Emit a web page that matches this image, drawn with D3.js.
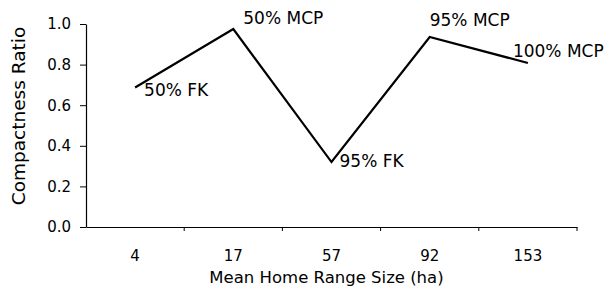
<!DOCTYPE html>
<html>
<head>
<meta charset="utf-8">
<script src="https://cdn.jsdelivr.net/npm/d3@7"></script>
<style>
  body { margin: 0; background: #fff; }
  svg text { font-family: "DejaVu Sans", sans-serif; fill: #000; }
</style>
</head>
<body>
<div class="chart-container"></div>
<script>
const categories = ["4", "17", "57", "92", "153"];
const ratios = [0.687, 0.975, 0.32, 0.936, 0.808];
const pointLabels = ["50% FK", "50% MCP", "95% FK", "95% MCP", "100% MCP"];
const yTicks = [0, 0.2, 0.4, 0.6, 0.8, 1.0];

function drawLineChart() {
    const width = 604,
        height = 295;
    const margin = { top: 24, right: 27, bottom: 68, left: 86 };

    const svg = d3.select(".chart-container").append("svg")
        .attr("width", width)
        .attr("height", height);

    const data = categories.map((c, i) => ({ name: c, value: ratios[i], label: pointLabels[i] }));

    const x = d3.scaleBand()
        .domain(categories)
        .range([margin.left, width - margin.right]);

    const y = d3.scaleLinear()
        .domain([0, 1])
        .range([height - margin.bottom, margin.top]);

    const xAxis = g =>
        g.attr("transform", `translate(0, ${height - margin.bottom})`)
        .call(d3.axisBottom(x).tickSize(0).tickPadding(23));

    const yAxis = g =>
        g.attr("transform", `translate(${margin.left}, 0)`)
        .call(d3.axisLeft(y).tickValues(yTicks).tickFormat(d3.format(".1f")).tickSize(6).tickSizeOuter(0).tickPadding(9));

    const gx = svg.append("g").call(xAxis);
    gx.select(".domain").attr("stroke", "#000").attr("stroke-width", 1.2);
    gx.selectAll("text").style("font-size", "15px");

    // tick marks sit on the band boundaries, not the centres
    const bounds = categories.map(c => x(c)).concat([x.range()[1]]);
    gx.selectAll("line.bound")
        .data(bounds.slice(1))
        .enter()
        .append("line")
            .attr("class", "bound")
            .attr("x1", d => d)
            .attr("x2", d => d)
            .attr("y1", 0)
            .attr("y2", 4)
            .attr("stroke", "#000");

    const gy = svg.append("g").call(yAxis);
    gy.select(".domain").attr("stroke", "#000").attr("stroke-width", 1.2);
    gy.selectAll("text").style("font-size", "15px");

    const line = d3.line()
        .x(d => x(d.name) + x.bandwidth() / 2)
        .y(d => y(d.value));

    svg.append("path")
        .datum(data)
        .attr("fill", "none")
        .attr("stroke", "#000")
        .attr("stroke-width", 2.2)
        .attr("d", line);

    // point labels, nudged like the original
    const offsets = [
        { dx: 9, dy: 2 },
        { dx: 10, dy: -11 },
        { dx: 8, dy: -1 },
        { dx: 0, dy: -17 },
        { dx: -15, dy: -12 }
    ];
    svg.selectAll("text.point-label")
        .data(data)
        .enter()
        .append("text")
            .attr("class", "point-label")
            .attr("x", (d, i) => x(d.name) + x.bandwidth() / 2 + offsets[i].dx)
            .attr("y", (d, i) => y(d.value) + offsets[i].dy)
            .attr("dy", "0.36em")
            .style("font-size", "17px")
            .text(d => d.label);

    svg.append("text")
        .attr("x", (margin.left + width - margin.right) / 2 - 5)
        .attr("y", 283)
        .attr("text-anchor", "middle")
        .style("font-size", "16.5px")
        .text("Mean Home Range Size (ha)");

    svg.append("text")
        .attr("transform", `translate(25, 116) rotate(-90)`)
        .attr("text-anchor", "middle")
        .style("font-size", "18.5px")
        .text("Compactness Ratio");
}

drawLineChart();
</script>
</body>
</html>
